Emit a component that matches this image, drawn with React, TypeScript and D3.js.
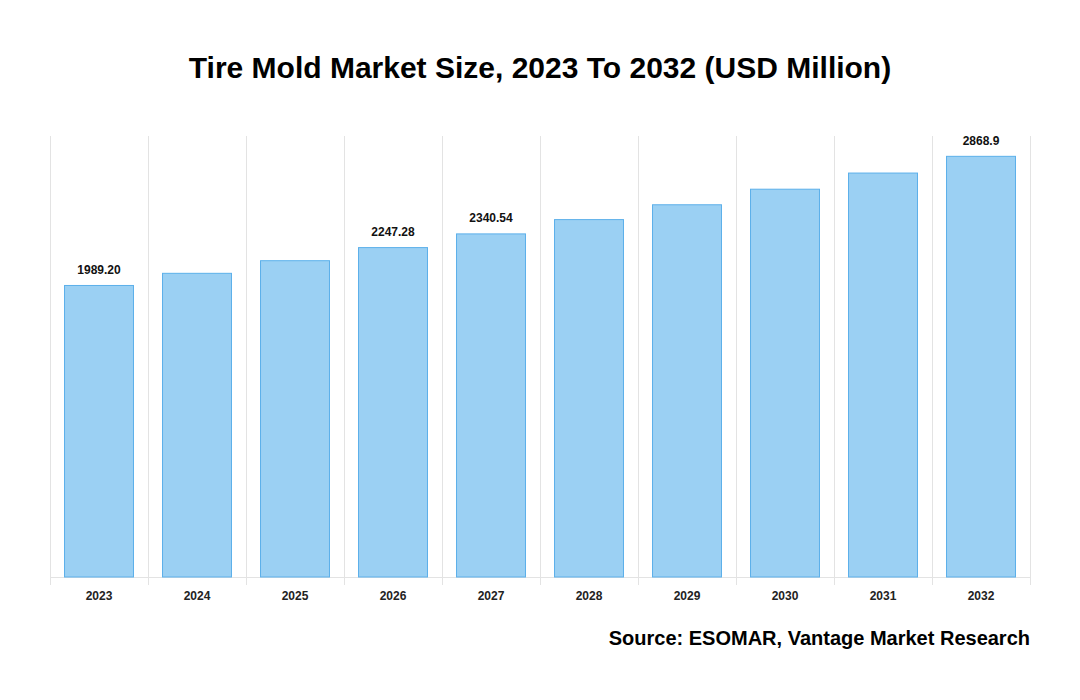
import React, { useRef, useEffect } from 'react';
import * as d3 from 'd3';

const years = ['2023', '2024', '2025', '2026', '2027', '2028', '2029', '2030', '2031', '2032'];
const marketSize = [1989.2, 2072, 2158, 2247.28, 2340.54, 2438, 2539, 2645, 2755, 2868.9];
const valueLabels = ['1989.20', '', '', '2247.28', '2340.54', '', '', '', '', '2868.9'];

function TireMoldChart() {
  const svgRef = useRef<SVGSVGElement>(null);

  useEffect(() => {
    const svg = d3.select(svgRef.current);
    svg.selectAll('*').remove();

    const width = 1080;
    const height = 700;
    const margin = { top: 136, right: 50, bottom: 123, left: 50 };
    const innerW = width - margin.left - margin.right;
    const innerH = height - margin.top - margin.bottom;
    const font = '"Liberation Sans", Arial, sans-serif';

    svg
      .append('rect')
      .attr('width', width)
      .attr('height', height)
      .attr('fill', '#ffffff');

    // Title
    svg
      .append('text')
      .attr('x', width / 2)
      .attr('y', 78)
      .attr('text-anchor', 'middle')
      .attr('font-family', font)
      .attr('font-weight', 'bold')
      .attr('font-size', 30)
      .attr('fill', '#000')
      .text('Tire Mold Market Size, 2023 To 2032 (USD Million)');

    const g = svg.append('g').attr('transform', `translate(${margin.left},${margin.top})`);

    const x = d3.scaleBand().domain(years).range([0, innerW]).paddingInner(0.286).paddingOuter(0.143);
    const band = d3.scaleBand().domain(years).range([0, innerW]);
    const y = d3.scaleLinear().domain([0, 3004]).range([innerH, 0]);

    // vertical grid lines at category boundaries
    const bounds = years.map((d) => band(d)!).concat([innerW]);
    g.selectAll('.grid')
      .data(bounds)
      .enter()
      .append('line')
      .attr('x1', (d) => d + 0.5)
      .attr('x2', (d) => d + 0.5)
      .attr('y1', 0)
      .attr('y2', innerH + 8)
      .attr('stroke', '#e3e3e3')
      .attr('stroke-width', 1);

    // baseline
    g.append('line')
      .attr('x1', 0)
      .attr('x2', innerW)
      .attr('y1', innerH + 0.5)
      .attr('y2', innerH + 0.5)
      .attr('stroke', '#e3e3e3');

    // bars
    g.selectAll('.bar')
      .data(years)
      .enter()
      .append('rect')
      .attr('class', 'bar')
      .attr('x', (d) => x(d)! + 0.5)
      .attr('y', (d, i) => y(marketSize[i]) + 0.5)
      .attr('width', x.bandwidth() - 1)
      .attr('height', (d, i) => innerH - y(marketSize[i]) - 0.5)
      .attr('fill', '#9bd0f3')
      .attr('stroke', '#5cb0ea')
      .attr('stroke-width', 1);

    // value labels
    g.selectAll('.val')
      .data(years)
      .enter()
      .append('text')
      .attr('x', (d) => x(d)! + x.bandwidth() / 2)
      .attr('y', (d, i) => y(marketSize[i]) - 11)
      .attr('text-anchor', 'middle')
      .attr('font-family', font)
      .attr('font-weight', 'bold')
      .attr('font-size', 12)
      .attr('fill', '#111')
      .text((d, i) => valueLabels[i]);

    // x axis labels
    g.selectAll('.xl')
      .data(years)
      .enter()
      .append('text')
      .attr('x', (d) => x(d)! + x.bandwidth() / 2)
      .attr('y', innerH + 23)
      .attr('text-anchor', 'middle')
      .attr('font-family', font)
      .attr('font-weight', 'bold')
      .attr('font-size', 12)
      .attr('fill', '#222')
      .text((d) => d);

    // source
    svg
      .append('text')
      .attr('x', 1030)
      .attr('y', 645)
      .attr('text-anchor', 'end')
      .attr('font-family', font)
      .attr('font-weight', 'bold')
      .attr('font-size', 20)
      .attr('fill', '#000')
      .text('Source: ESOMAR, Vantage Market Research');
  }, []);

  return (
    <svg
      ref={svgRef}
      width={1080}
      height={700}
      style={{ position: 'absolute', left: 0, top: 0, display: 'block' }}
    />
  );
}

export default function App() {
  return <TireMoldChart />;
}
